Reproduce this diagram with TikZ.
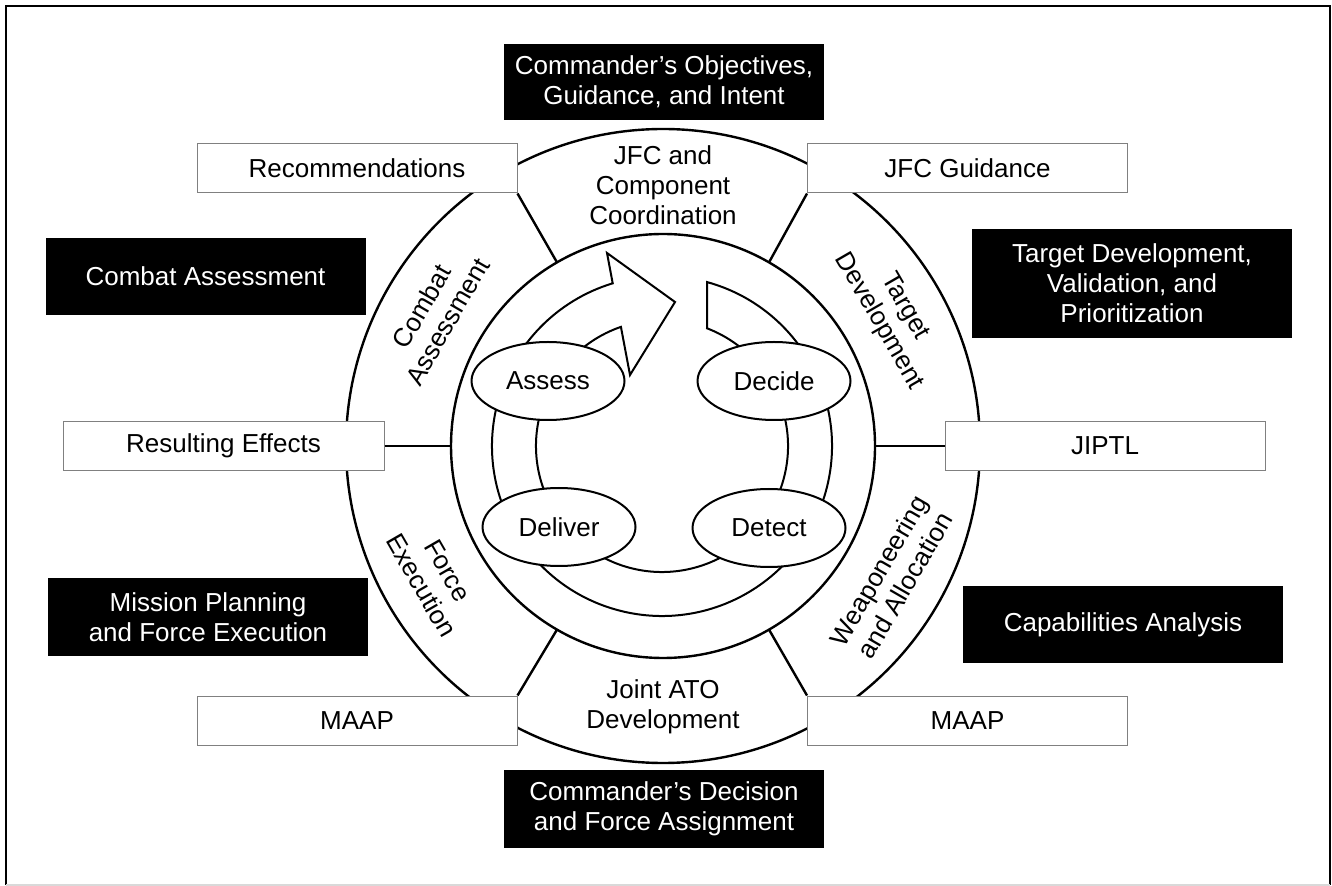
\documentclass[tikz,border=0pt]{standalone}
\usepackage{fontspec}
\setmainfont{Liberation Sans}
\usetikzlibrary{shapes.geometric,calc}
\tikzset{
  base/.style={font=\fontsize{13}{15}\selectfont, align=center, inner sep=0pt},
  wbox/.style={base, draw=gray, line width=0.5pt, fill=white, minimum width=160pt, minimum height=24.5pt},
  bbox/.style={base, fill=black, text=white, minimum width=160pt},
  phase/.style={base, ellipse, draw, line width=1pt, fill=white, minimum width=76.5pt, minimum height=39pt},
  ring/.style={line width=1.2pt},
  band/.style={line width=1pt, line join=miter},
  frame/.style={line width=1.3pt}
}
\begin{document}
\begin{tikzpicture}[x=0.5pt,y=0.5pt]
\useasboundingbox (0,0) rectangle (1332,-886);
% frame
\draw[frame] (6,-885) -- (6,-6) -- (1330,-6) -- (1330,-885);
\draw[gray!30, line width=0.6pt] (6,-885) -- (1330,-885);

\coordinate (c) at (663,-446);
\coordinate (b) at (662,-446);

% rings
\draw[ring] (c) circle[radius=317];
\draw[ring] (c) circle[radius=212];

% points on inner circle
\coordinate (i0) at ($(c)+(0:212)$);
\coordinate (i60) at ($(c)+(60:212)$);
\coordinate (i120) at ($(c)+(120:212)$);
\coordinate (i180) at ($(c)+(180:212)$);
\coordinate (i240) at ($(c)+(240:212)$);
\coordinate (i300) at ($(c)+(300:212)$);

% white boxes
\node[wbox] (rec) at (357,-168.5) {Recommendations};
\node[wbox] (jfcg) at (967.5,-168.5) {JFC Guidance};
\node[wbox, minimum width=160.5pt] (res) at (223.5,-446) {Resulting Effects};
\node[wbox] (jiptl) at (1105,-446) {JIPTL};
\node[wbox] (maapl) at (357,-720.5) {MAAP};
\node[wbox] (maapr) at (967.5,-720.5) {MAAP};

% dividers
\draw[ring] (i120) -- (rec.south east);
\draw[ring] (i60) -- (jfcg.south west);
\draw[ring] (i240) -- (maapl.north east);
\draw[ring] (i300) -- (maapr.north west);
\draw[ring] (res.east) -- (i180);
\draw[ring] (jiptl.west) -- (i0);

% black boxes
\node[bbox, minimum height=38pt] (obj) at (664,-82) {Commander’s Objectives,\\Guidance, and Intent};
\node[bbox, minimum height=38.5pt] (ca) at (205.5,-276.5) {Combat Assessment};
\node[bbox, minimum height=54.5pt] (td) at (1132,-283.5) {Target Development,\\Validation, and\\Prioritization};
\node[bbox, minimum height=39pt] (mp) at (208,-617) {Mission Planning\\and Force Execution};
\node[bbox, minimum height=38.5pt] (cap) at (1123,-624.5) {Capabilities Analysis};
\node[bbox, minimum height=39pt] (dec) at (664,-809) {Commander’s Decision\\and Force Assignment};

% sector labels
\node[base] (s1) at (663,-185) {JFC and\\Component\\Coordination};
\node[base] (s4) at (663,-707) {Joint ATO\\Development};
\node[base, rotate=60] (s6) at ($(c)+(150:264)$) {Combat\\Assessment};
\node[base, rotate=-60] (s2) at ($(c)+(30:264)$) {Target\\Development};
\node[base, rotate=60] (s3) at ($(c)+(-30:264)$) {Weaponeering\\and Allocation};
\node[base, rotate=-60] (s5) at ($(c)+(210:264)$) {Force\\Execution};

% cycle band with arrow
\coordinate (bo1) at ($(b)+(74.65:170)$);
\coordinate (bi2) at ($(b)+(-250.97:126)$);
\coordinate (hc1) at (607,-253);
\coordinate (tip) at (675,-302);
\coordinate (hc2) at (630,-375);
\draw[band] (bo1) arc[start angle=74.65, end angle=-253.14, radius=170]
  -- (hc1) -- (tip) -- (hc2) -- (bi2)
  arc[start angle=-250.97, end angle=69.08, radius=126] -- cycle;

% phases
\node[phase] (assess) at (548,-381) {Assess};
\node[phase] (decide) at (774,-381) {Decide};
\node[phase] (deliver) at (559,-527) {Deliver};
\node[phase] (detect) at (769,-528) {Detect};
\end{tikzpicture}
\end{document}
